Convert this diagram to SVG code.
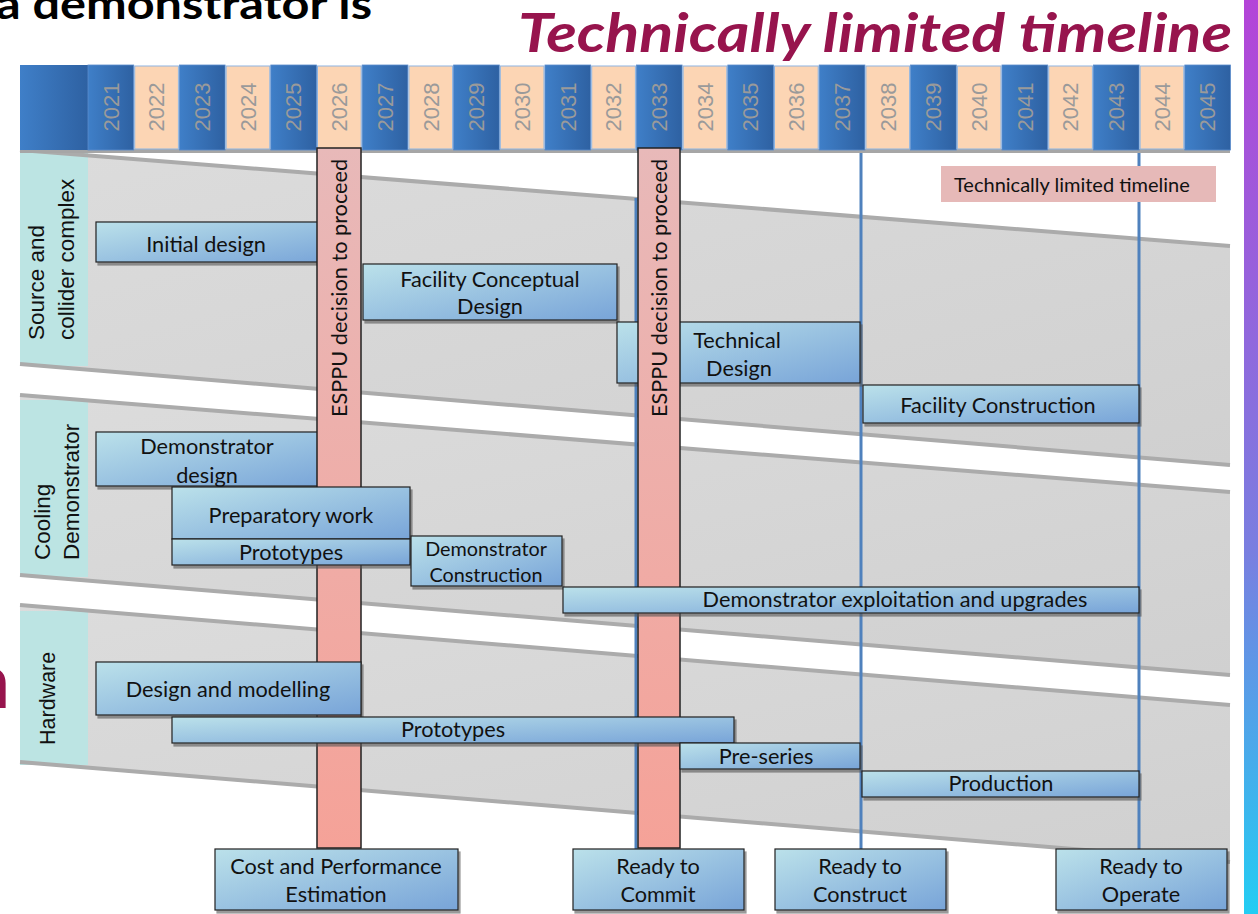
<svg xmlns="http://www.w3.org/2000/svg" width="1258" height="914" viewBox="0 0 1258 914">
<defs>
<linearGradient id="gBox" x1="0" y1="0" x2="1" y2="1"><stop offset="0" stop-color="#bbe1ea"/><stop offset="1" stop-color="#78a4d8"/></linearGradient>
<linearGradient id="gPink" x1="0" y1="0" x2="0" y2="1"><stop offset="0" stop-color="#e8b9b9"/><stop offset="1" stop-color="#f5a298"/></linearGradient>
<linearGradient id="gHead" x1="0" y1="0" x2="1" y2="0"><stop offset="0" stop-color="#3f7fc8"/><stop offset="1" stop-color="#2e61a2"/></linearGradient>
<linearGradient id="gLane" x1="0" y1="0" x2="1" y2="1"><stop offset="0" stop-color="#dcdcdc"/><stop offset="1" stop-color="#d0d0d0"/></linearGradient>
<linearGradient id="gSide" x1="0" y1="0" x2="0" y2="1"><stop offset="0" stop-color="#b444d8"/><stop offset="0.6" stop-color="#7a7ee0"/><stop offset="1" stop-color="#22cdf3"/></linearGradient>
<filter id="sh" x="-5%" y="-10%" width="110%" height="130%"><feDropShadow dx="2" dy="3" stdDeviation="0.6" flood-color="#555" flood-opacity="0.6"/></filter>
</defs>
<style>
.box{fill:url(#gBox);stroke:#222;stroke-width:1.2;filter:url(#sh)}
.t{font-family:Lato,"Liberation Sans",sans-serif;font-size:21.7px;fill:#111;text-anchor:middle}
.ts{font-size:19.8px}
.yr{font-family:"Liberation Sans",Arial,sans-serif;font-size:22px;fill:#9a9a9a;text-anchor:middle}
.lab{font-family:"Liberation Sans",Arial,sans-serif;font-size:22.5px;fill:#111}
.lane{fill:url(#gLane)}
.edge{stroke:#ababab;stroke-width:4;fill:none}
.side{fill:#bce4e3}
.blue{fill:url(#gHead);stroke:#5b8ccc;stroke-width:0.8}
.peach{fill:#fcd5b4;stroke:#8db4e2;stroke-width:1}
.pink{fill:url(#gPink);stroke:#222;stroke-width:1.5}
.vl{stroke:#4f81bd;stroke-width:3;fill:none}
</style>
<rect x="1244" y="0" width="14" height="914" fill="url(#gSide)"/>
<g id="titles">
<text x="-4" y="19" font-family="Lato,'Liberation Sans',sans-serif" font-weight="bold" font-size="42" fill="#000" textLength="376" lengthAdjust="spacingAndGlyphs">a demonstrator is</text>
<text x="518" y="52" font-family="Lato,'Liberation Sans',sans-serif" font-weight="bold" font-style="italic" font-size="54" fill="#97144d" textLength="714" lengthAdjust="spacingAndGlyphs">Technically limited timeline</text>
<text x="-33" y="708" font-family="Lato,'Liberation Sans',sans-serif" font-weight="bold" font-size="76" fill="#97144d">n</text>
</g>
<g id="lanes">
<polygon class="lane" points="20,150 1230,246 1230,465 20,364"/>
<polygon class="lane" points="20,395 1230,492 1230,675 20,575"/>
<polygon class="lane" points="20,605 1230,705 1230,862 20,762"/>
<rect class="side" x="20" y="152" width="68" height="214"/>
<rect class="side" x="20" y="400" width="68" height="177"/>
<rect class="side" x="20" y="611" width="68" height="154"/>
<line class="edge" x1="20" y1="150" x2="1230" y2="246"/>
<line class="edge" x1="20" y1="364" x2="1230" y2="465"/>
<line class="edge" x1="20" y1="395" x2="1230" y2="492"/>
<line class="edge" x1="20" y1="575" x2="1230" y2="675"/>
<line class="edge" x1="20" y1="605" x2="1230" y2="705"/>
<line class="edge" x1="20" y1="762" x2="1230" y2="862"/>
</g>
<g id="lane-labels" class="lab">
<text transform="translate(44,340) rotate(-90)">Source and</text>
<text transform="translate(74,340) rotate(-90)">collider complex</text>
<text transform="translate(50,560) rotate(-90)">Cooling</text>
<text transform="translate(79,560) rotate(-90)">Demonstrator</text>
<text transform="translate(55,745) rotate(-90)" font-size="21.5">Hardware</text>
</g>
<g id="connectors">
<line class="vl" x1="636" y1="198" x2="636" y2="849"/>
<line class="vl" x1="861" y1="150" x2="861" y2="849"/>
<line class="vl" x1="1139" y1="150" x2="1139" y2="849"/>
</g>
<g id="header">
<rect x="20" y="149" width="1210" height="4" fill="#a6a6a6"/>
<rect x="20" y="65" width="68" height="85" fill="url(#gHead)"/>
<rect class="blue" x="88" y="65" width="45.7" height="85"/>
<rect class="peach" x="134.7" y="66" width="43.7" height="83"/>
<rect class="blue" x="179.4" y="65" width="45.7" height="85"/>
<rect class="peach" x="226.1" y="66" width="43.7" height="83"/>
<rect class="blue" x="270.8" y="65" width="45.7" height="85"/>
<rect class="peach" x="317.5" y="66" width="43.7" height="83"/>
<rect class="blue" x="362.2" y="65" width="45.7" height="85"/>
<rect class="peach" x="408.9" y="66" width="43.7" height="83"/>
<rect class="blue" x="453.6" y="65" width="45.7" height="85"/>
<rect class="peach" x="500.3" y="66" width="43.7" height="83"/>
<rect class="blue" x="545" y="65" width="45.7" height="85"/>
<rect class="peach" x="591.7" y="66" width="43.7" height="83"/>
<rect class="blue" x="636.4" y="65" width="45.7" height="85"/>
<rect class="peach" x="683.1" y="66" width="43.7" height="83"/>
<rect class="blue" x="727.8" y="65" width="45.7" height="85"/>
<rect class="peach" x="774.5" y="66" width="43.7" height="83"/>
<rect class="blue" x="819.2" y="65" width="45.7" height="85"/>
<rect class="peach" x="865.9" y="66" width="43.7" height="83"/>
<rect class="blue" x="910.6" y="65" width="45.7" height="85"/>
<rect class="peach" x="957.3" y="66" width="43.7" height="83"/>
<rect class="blue" x="1002" y="65" width="45.7" height="85"/>
<rect class="peach" x="1048.7" y="66" width="43.7" height="83"/>
<rect class="blue" x="1093.4" y="65" width="45.7" height="85"/>
<rect class="peach" x="1140.1" y="66" width="43.7" height="83"/>
<rect class="blue" x="1184.8" y="65" width="45.7" height="85"/>
<g class="yr">
<text transform="translate(110.9,107) rotate(-90)" dy=".35em">2021</text>
<text transform="translate(156.6,107) rotate(-90)" dy=".35em">2022</text>
<text transform="translate(202.3,107) rotate(-90)" dy=".35em">2023</text>
<text transform="translate(248,107) rotate(-90)" dy=".35em">2024</text>
<text transform="translate(293.7,107) rotate(-90)" dy=".35em">2025</text>
<text transform="translate(339.4,107) rotate(-90)" dy=".35em">2026</text>
<text transform="translate(385.1,107) rotate(-90)" dy=".35em">2027</text>
<text transform="translate(430.8,107) rotate(-90)" dy=".35em">2028</text>
<text transform="translate(476.5,107) rotate(-90)" dy=".35em">2029</text>
<text transform="translate(522.2,107) rotate(-90)" dy=".35em">2030</text>
<text transform="translate(567.9,107) rotate(-90)" dy=".35em">2031</text>
<text transform="translate(613.6,107) rotate(-90)" dy=".35em">2032</text>
<text transform="translate(659.3,107) rotate(-90)" dy=".35em">2033</text>
<text transform="translate(705,107) rotate(-90)" dy=".35em">2034</text>
<text transform="translate(750.7,107) rotate(-90)" dy=".35em">2035</text>
<text transform="translate(796.4,107) rotate(-90)" dy=".35em">2036</text>
<text transform="translate(842.1,107) rotate(-90)" dy=".35em">2037</text>
<text transform="translate(887.8,107) rotate(-90)" dy=".35em">2038</text>
<text transform="translate(933.5,107) rotate(-90)" dy=".35em">2039</text>
<text transform="translate(979.2,107) rotate(-90)" dy=".35em">2040</text>
<text transform="translate(1024.9,107) rotate(-90)" dy=".35em">2041</text>
<text transform="translate(1070.6,107) rotate(-90)" dy=".35em">2042</text>
<text transform="translate(1116.3,107) rotate(-90)" dy=".35em">2043</text>
<text transform="translate(1162,107) rotate(-90)" dy=".35em">2044</text>
<text transform="translate(1207.7,107) rotate(-90)" dy=".35em">2045</text>
</g>
</g>
<g id="initial-design"><rect class="box" x="96" y="222" width="240" height="40"/><text class="t" x="206" y="252">Initial design</text></g>
<g id="facility-conceptual-design"><rect class="box" x="363" y="264" width="254" height="56"/><text class="t" x="490" y="287">Facility Conceptual</text><text class="t" x="490" y="314">Design</text></g>
<g id="technical-design"><rect class="box" x="617" y="322" width="243" height="61"/><text class="t" x="737" y="348">Technical</text><text class="t" x="739" y="376">Design</text></g>
<g id="facility-construction"><rect class="box" x="863" y="385" width="276" height="38"/><text class="t" x="998" y="413">Facility Construction</text></g>
<g id="demonstrator-design"><rect class="box" x="96" y="432" width="240" height="54"/><text class="t" x="207" y="454">Demonstrator</text><text class="t" x="207" y="483">design</text></g>
<g id="esppu-1"><rect class="pink" x="317" y="148" width="44" height="700"/><text class="t" transform="translate(339,288) rotate(-90)" dy=".35em" font-size="21.3">ESPPU decision to proceed</text></g>
<g id="esppu-2"><rect class="pink" x="638" y="148" width="42" height="700"/><text class="t" transform="translate(659,288) rotate(-90)" dy=".35em" font-size="21.3">ESPPU decision to proceed</text></g>
<g id="preparatory-work"><rect class="box" x="172" y="487" width="238" height="52"/><text class="t" x="291" y="523">Preparatory work</text></g>
<g id="prototypes-cooling"><rect class="box" x="172" y="539" width="238" height="26"/><text class="t" x="291" y="560">Prototypes</text></g>
<g id="demonstrator-construction"><rect class="box" x="411" y="536" width="151" height="50"/><text class="t ts" x="486" y="556">Demonstrator</text><text class="t ts" x="486" y="582">Construction</text></g>
<g id="demonstrator-exploitation"><rect class="box" x="563" y="587" width="576" height="26"/><text class="t" x="895" y="607">Demonstrator exploitation and upgrades</text></g>
<g id="design-modelling"><rect class="box" x="96" y="662" width="265" height="53"/><text class="t" x="228" y="697">Design and modelling</text></g>
<g id="prototypes-hw"><rect class="box" x="172" y="717" width="562" height="26"/><text class="t" x="453" y="737">Prototypes</text></g>
<g id="pre-series"><rect class="box" x="680" y="743" width="180" height="26"/><text class="t" x="766" y="764">Pre-series</text></g>
<g id="production"><rect class="box" x="862" y="771" width="277" height="26"/><text class="t" x="1001" y="791">Production</text></g>
<g id="ms-cost"><rect class="box" x="215" y="849" width="243" height="61"/><text class="t" x="336" y="874">Cost and Performance</text><text class="t" x="336" y="902">Estimation</text></g>
<g id="ms-commit"><rect class="box" x="573" y="849" width="171" height="61"/><text class="t" x="658" y="874">Ready to</text><text class="t" x="658" y="902">Commit</text></g>
<g id="ms-construct"><rect class="box" x="775" y="849" width="171" height="61"/><text class="t" x="860" y="874">Ready to</text><text class="t" x="860" y="902">Construct</text></g>
<g id="ms-operate"><rect class="box" x="1056" y="849" width="171" height="61"/><text class="t" x="1141" y="874">Ready to</text><text class="t" x="1141" y="902">Operate</text></g>
<g id="legend"><rect x="941" y="166" width="275" height="36" fill="#e6b9b8"/><text x="954" y="192" font-family="Lato,'Liberation Sans',sans-serif" font-size="20" fill="#111">Technically limited timeline</text></g>
</svg>
